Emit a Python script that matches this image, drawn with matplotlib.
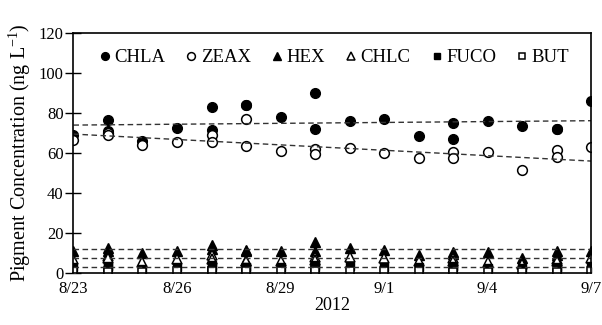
import numpy as np
import matplotlib.pyplot as plt
from datetime import date, timedelta

plt.rcParams['font.family'] = ['Liberation Serif', 'DejaVu Serif']
plt.rcParams['mathtext.fontset'] = 'custom'
plt.rcParams['mathtext.rm'] = 'Liberation Serif'
plt.rcParams['mathtext.default'] = 'regular'

# sampling days after 8/23/2012 (some days sampled twice)
days = [0, 1, 1, 2, 3, 4, 4, 5, 5, 6, 7, 7, 8, 9, 10, 11, 11, 12, 13, 14, 14, 15]

chla = [69, 76.5, 71, 66, 72.3, 83.2, 71.5, 84, 84, 78.2, 90.2, 71.8,
        76.2, 77.2, 68.5, 75.2, 66.8, 76, 73.5, 71.8, 71.8, 86]
zeax = [66.5, 70, 69, 64, 65.7, 69, 65.7, 77, 63.7, 61, 61.8, 59.3,
        62.3, 60.2, 57.3, 60.7, 57.7, 60.3, 51.5, 61.5, 57.8, 62.8]
hex_ = [11, 12.3, 11, 9.8, 11, 14, 12, 11.5, 11, 11, 15.3, 11,
        12.7, 11.5, 9, 10.7, 9.5, 10.3, 7.7, 11, 9, 11]
chlc = [7, 8.5, 7.5, 5.5, 7, 9, 7, 6, 6, 6, 8, 6.5,
        8, 7.5, 6, 7.5, 6, 5.5, 4.5, 7, 6, 7.5]
fuco = [3, 3.5, 3, 2, 3, 4, 3, 3, 3, 3, 4, 3,
        3.5, 3, 3, 3.5, 3, 2.5, 2.5, 3, 2.5, 3.5]
but = [1, 1, 0.5, 0.5, 1, 1, 1, 1, 1, 1, 1.5, 1,
       1, 1, 1, 1, 0.5, 0.5, 0.5, 1, 0.5, 1]

# linear trend lines: value at first and last day
trend_days = [0, 15]
trend_chla = [74, 76.2]
trend_zeax = [69.5, 56]
trend_hex = [12, 12]
trend_chlc = [7.3, 7.3]
trend_fuco = [2.8, 2.8]

tick_labels = ['8/23', '8/26', '8/29', '9/1', '9/4', '9/7']

start = date(2012, 8, 23)
t = [start + timedelta(days=d) for d in days]
tt = [start + timedelta(days=d) for d in trend_days]

fig = plt.figure(figsize=(6.02, 3.25), dpi=100)
ax = fig.add_axes([0.122, 0.16, 0.86, 0.738])

ms = 7
ax.plot(t, chla, 'o', color='k', ms=ms, label='CHLA')
ax.plot(t, zeax, 'o', mfc='white', mec='k', ms=ms, mew=1.1, label='ZEAX')
ax.plot(t, hex_, '^', color='k', ms=ms, label='HEX')
ax.plot(t, chlc, '^', mfc='white', mec='k', ms=ms, mew=1.1, label='CHLC')
ax.plot(t, fuco, 's', color='k', ms=ms - 1, label='FUCO')
ax.plot(t, but, 's', mfc='white', mec='k', ms=ms - 1, mew=1.1, label='BUT')

for tr in (trend_chla, trend_zeax, trend_hex, trend_chlc, trend_fuco):
    ax.plot(tt, tr, '--', color='#333333', lw=1.0, dashes=(4, 2.5))

ax.set_ylim(0, 120)
ax.set_yticks(range(0, 121, 20))
ax.set_xlim(start, start + timedelta(days=15))
ax.set_xticks([start + timedelta(days=3 * i) for i in range(6)])
ax.set_xticklabels(tick_labels)
ax.tick_params(axis='y', direction='inout', length=12, width=1, labelsize=12, pad=1)
ax.tick_params(axis='x', direction='in', length=4, width=1, labelsize=12, pad=6)
for s in ax.spines.values():
    s.set_linewidth(1.2)

ax.set_ylabel('Pigment Concentration (ng L$^{-1}$)', fontsize=14.5, labelpad=4)
ax.set_xlabel('2012', fontsize=13, labelpad=0)

ax.legend(loc='upper center', ncol=6, frameon=False, fontsize=13.5,
          handletextpad=0.0, columnspacing=0.9, markerscale=0.8,
          borderaxespad=0.2, handlelength=1.0, bbox_to_anchor=(0.5, 0.98))

fig.savefig('out.png', dpi=100)
